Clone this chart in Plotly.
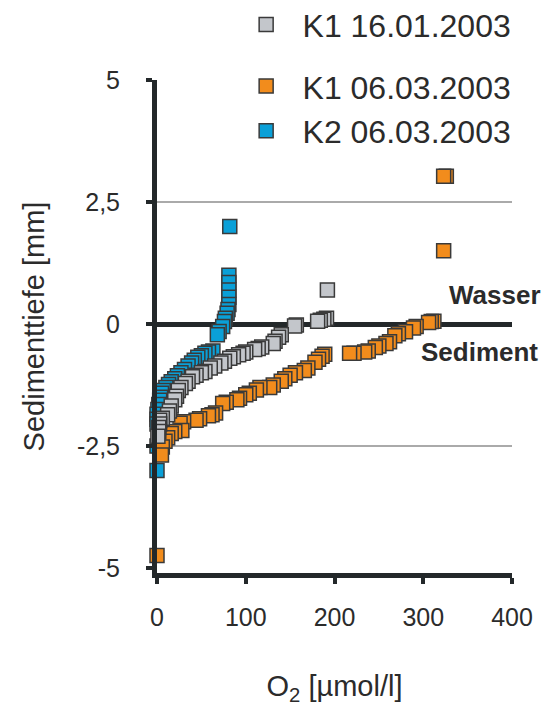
import plotly.graph_objects as go

# K1 16.01.2003 (grey)
k1_jan_o2 = [192, 191, 188, 184, 181, 157, 155, 140, 137, 133, 131, 118, 114, 110, 100, 97, 92, 86, 82, 76, 72,
             65, 60, 54, 50, 44, 40, 35, 32, 27, 24, 22, 20, 16, 14, 12, 6, 3, 3, 2, 2, 1]
k1_jan_depth = [0.7, 0.12, 0.1, 0.08, 0.06, -0.02, -0.04, -0.22, -0.27, -0.35, -0.4, -0.47, -0.5, -0.52, -0.57, -0.6,
                -0.63, -0.67, -0.7, -0.76, -0.8, -0.86, -0.9, -0.97, -1.0, -1.05, -1.08, -1.17, -1.22, -1.3, -1.36,
                -1.48, -1.55, -1.68, -1.78, -1.86, -1.93, -1.97, -2.05, -2.12, -2.2, -2.3]

# K1 06.03.2003 (orange)
k1_mar_o2 = [326, 323, 323, 312, 309, 306, 292, 289, 280, 272, 268, 262, 258, 250, 246, 238, 234, 222, 217, 189,
             186, 182, 178, 170, 166, 156, 150, 144, 140, 131, 127, 116, 112, 104, 100, 93, 90, 78, 74, 66, 62, 58,
             48, 44, 30, 26, 28, 20, 16, 12, 9, 6, 5, 0]
k1_mar_depth = [3.03, 3.03, 1.5, 0.06, 0.05, 0.03, -0.05, -0.08, -0.16, -0.2, -0.24, -0.36, -0.4, -0.45, -0.48,
                -0.55, -0.57, -0.6, -0.6, -0.62, -0.66, -0.72, -0.78, -0.9, -0.95, -1.0, -1.05, -1.12, -1.17, -1.25,
                -1.3, -1.3, -1.35, -1.42, -1.45, -1.52, -1.55, -1.6, -1.63, -1.82, -1.86, -1.88, -1.94, -1.97, -2.0,
                -2.03, -2.18, -2.2, -2.24, -2.33, -2.4, -2.52, -2.68, -4.74]

# K2 06.03.2003 (blue)
k2_mar_o2 = [82, 81, 81, 81, 81, 81, 80, 79, 77, 76, 74, 70, 68, 63, 58, 54, 50, 46, 42, 39, 35, 31, 27, 23, 20,
             16, 13, 10, 7, 5, 4, 3, 2, 1, 0, 0, 0, 0, 0]
k2_mar_depth = [2.0, 1.0, 0.85, 0.7, 0.55, 0.4, 0.3, 0.22, 0.12, 0.05, -0.05, -0.15, -0.22, -0.55, -0.57, -0.6,
                -0.65, -0.68, -0.74, -0.8, -0.86, -0.93, -1.0, -1.06, -1.12, -1.18, -1.24, -1.3, -1.36, -1.42,
                -1.5, -1.56, -1.65, -1.75, -1.85, -1.95, -2.05, -2.5, -3.0]

y_tickvals = [-5, -2.5, 0, 2.5, 5]
y_ticktext = ["-5", "-2,5", "0", "2,5", "5"]
x_tickvals = [0, 100, 200, 300, 400]
grid_levels = [2.5, -2.5]

FONT = "Liberation Sans, Arial, sans-serif"
TXT = "#2b2b2b"
AX = "#23282a"
OUTLINE = "#3a3a3a"

fig = go.Figure()

def add(name, xs, ys, color, rank):
    fig.add_trace(go.Scatter(
        x=xs, y=ys, mode="markers", name="\u00a0" + name, cliponaxis=False,
        legendrank=rank,
        legendgroup="a" if rank == 1 else "b",
        marker=dict(symbol="square", size=14, color=color, line=dict(color=OUTLINE, width=1.5)),
    ))

add("K2 06.03.2003", k2_mar_o2, k2_mar_depth, "#0aa0d8", 3)
add("K1 06.03.2003", k1_mar_o2, k1_mar_depth, "#f28c1c", 2)
add("K1 16.01.2003", k1_jan_o2, k1_jan_depth, "#c3c6cb", 1)

for g in grid_levels:
    fig.add_shape(type="line", xref="paper", x0=0, x1=1, yref="y", y0=g, y1=g,
                  line=dict(color="#8e8e8e", width=1.5), layer="below")

fig.update_layout(
    width=545, height=706,
    margin=dict(l=157, r=33, t=80, b=133, autoexpand=False),
    paper_bgcolor="white", plot_bgcolor="white",
    font=dict(family=FONT, color=TXT, size=25),
    showlegend=True,
    legend=dict(x=0.23, y=1.168, xanchor="left", yanchor="top",
                font=dict(size=32, family=FONT, color=TXT),
                traceorder="grouped", tracegroupgap=17, itemwidth=45,
                bgcolor="rgba(0,0,0,0)"),
    xaxis=dict(range=[0, 400], tickvals=x_tickvals, showgrid=False, zeroline=False,
               showline=True, linewidth=5, linecolor=AX,
               ticks="outside", ticklen=6, tickwidth=4, tickcolor=AX,
               ticklabelstandoff=12, tickfont=dict(size=25),
               title=dict(text="O<sub>2</sub> [µmol/l]", font=dict(size=29), standoff=50)),
    yaxis=dict(range=[-5.1, 5.0], tickvals=y_tickvals, ticktext=y_ticktext, showgrid=False,
               zeroline=True, zerolinewidth=5, zerolinecolor=AX,
               showline=True, linewidth=5, linecolor=AX,
               ticks="outside", ticklen=6, tickwidth=4, tickcolor=AX,
               ticklabelstandoff=21, tickfont=dict(size=25),
               title=dict(text="Sedimenttiefe [mm]", font=dict(size=29), standoff=25)),
)

fig.add_annotation(x=1.087, xref="paper", y=0.6, yref="y", text="<b>Wasser</b>", showarrow=False,
                   xanchor="right", font=dict(size=26, color=TXT, family=FONT))
fig.add_annotation(x=1.078, xref="paper", y=-0.58, yref="y", text="<b>Sediment</b>", showarrow=False,
                   xanchor="right", font=dict(size=26, color=TXT, family=FONT))

fig.write_html("out.html")
